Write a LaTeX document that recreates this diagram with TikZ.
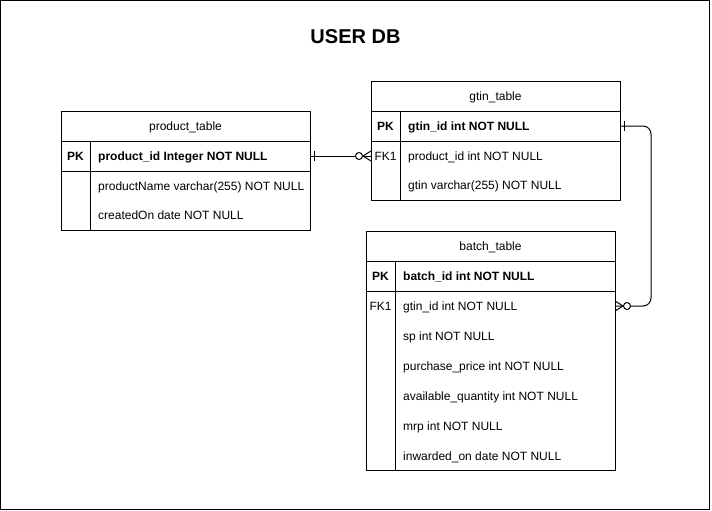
\documentclass[tikz,border=0pt]{standalone}
\usepackage{fontspec}
\setmainfont{Liberation Sans}
\usetikzlibrary{calc}

\tikzset{
  tbox/.style={draw=black, line width=1pt, anchor=north west, minimum width=249pt,
    inner sep=0pt, outer sep=0pt, text height=8.6pt, text depth=0pt},
  keytxt/.style={inner sep=0pt, text height=8.6pt, text depth=0pt},
  fldtxt/.style={anchor=west, inner sep=0pt, text height=8.6pt, text depth=0pt},
  boldtxt/.style={font=\fontsize{12}{14}\selectfont\bfseries},
  rel/.style={draw=black, line width=1pt},
}

\begin{document}
\begin{tikzpicture}[x=1pt,y=-1pt,font=\fontsize{12}{14}\selectfont]
\useasboundingbox (0,0) rectangle (712,511);
\path[draw=black,line width=1pt] (0.5,0.5) rectangle (709.5,509.5);
\node[font=\bfseries\fontsize{20}{24}\selectfont] (title) at (355.5,37) {USER DB};

% product_table:
\node[tbox, minimum height=30pt] (prodhead) at (61,111) {product\_table};
\node[tbox, minimum height=30pt] (prodpk) at (61,141) {};
\node[tbox, minimum height=59pt] (prodbody) at (61,171) {};
\path[draw=black,line width=1pt] (90,141) -- (90,230);
\node[keytxt, boldtxt] (prodkey) at (75.5,156) {PK};
\node[fldtxt, boldtxt] (prodid) at (98,156) {product\_id Integer NOT NULL};
\node[fldtxt] (prodname) at (98,186) {productName varchar(255) NOT NULL};
\node[fldtxt] (prodcreated) at (98,215) {createdOn date NOT NULL};

% gtin_table:
\node[tbox, minimum height=30pt] (gtinhead) at (371,81) {gtin\_table};
\node[tbox, minimum height=30pt] (gtinpk) at (371,111) {};
\node[tbox, minimum height=59pt] (gtinbody) at (371,141) {};
\path[draw=black,line width=1pt] (400,111) -- (400,200);
\node[keytxt, boldtxt] (gtinkey) at (385.5,126) {PK};
\node[fldtxt, boldtxt] (gtinid) at (408,126) {gtin\_id int NOT NULL};
\node[keytxt] (gtinfk) at (385.5,156) {FK1};
\node[fldtxt] (gtinprod) at (408,156) {product\_id int NOT NULL};
\node[fldtxt] (gtincode) at (408,185) {gtin varchar(255) NOT NULL};

% batch_table:
\node[tbox, minimum height=30pt] (batchhead) at (366,231) {batch\_table};
\node[tbox, minimum height=30pt] (batchpk) at (366,261) {};
\node[tbox, minimum height=179pt] (batchbody) at (366,291) {};
\path[draw=black,line width=1pt] (395,261) -- (395,470);
\node[keytxt, boldtxt] (batchkey) at (380.5,276) {PK};
\node[fldtxt, boldtxt] (batchid) at (403,276) {batch\_id int NOT NULL};
\node[keytxt] (batchfk) at (380.5,306) {FK1};
\node[fldtxt] (batchgtin) at (403,306) {gtin\_id int NOT NULL};
\node[fldtxt] (batchsp) at (403,336) {sp int NOT NULL};
\node[fldtxt] (batchprice) at (403,366) {purchase\_price int NOT NULL};
\node[fldtxt] (batchqty) at (403,396) {available\_quantity int NOT NULL};
\node[fldtxt] (batchmrp) at (403,426) {mrp int NOT NULL};
\node[fldtxt] (batchdate) at (403,456) {inwarded\_on date NOT NULL};

% relations:
\coordinate (prodend) at (prodpk.east);
\coordinate (gtinend) at (gtinbody.west |- gtinfk);
\path[rel] (prodend) -- (gtinend);
\path[rel] ($(prodend)+(4.5,-5)$) -- ($(prodend)+(4.5,5)$);
\path[rel] ($(gtinend)+(-8,0)$) -- ($(gtinend)+(0,-5)$);
\path[rel] ($(gtinend)+(-8,0)$) -- ($(gtinend)+(0,5)$);
\path[rel,fill=white] ($(gtinend)+(-12,0)$) circle (3.5);

\coordinate (gtinpkend) at (gtinpk.east);
\coordinate (batchend) at (batchbody.east |- batchfk);
\coordinate (elbow) at ($(gtinpkend)+(31,0)$);
\path[rel, rounded corners=8pt] (gtinpkend) -- (elbow) |- (batchend);
\path[rel] ($(gtinpkend)+(4.5,-5)$) -- ($(gtinpkend)+(4.5,5)$);
\path[rel] ($(batchend)+(8,0)$) -- ($(batchend)+(0,-5)$);
\path[rel] ($(batchend)+(8,0)$) -- ($(batchend)+(0,5)$);
\path[rel,fill=white] ($(batchend)+(12,0)$) circle (3.5);
\end{tikzpicture}
\end{document}
